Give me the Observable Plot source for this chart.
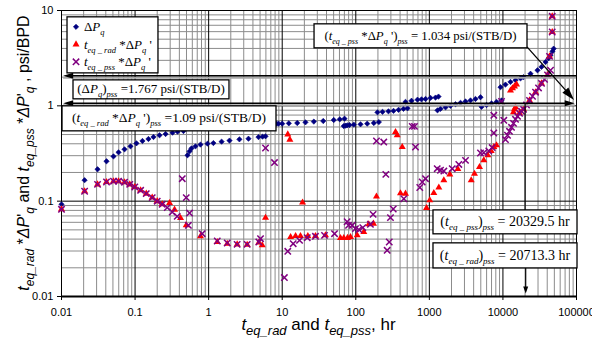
<!DOCTYPE html>
<html><head><meta charset="utf-8">
<script src="https://cdn.jsdelivr.net/npm/d3@7"></script>
<script src="https://cdn.jsdelivr.net/npm/@observablehq/plot@0.6"></script>
<style>
html,body{margin:0;padding:0;background:#fff;}
#chart{width:592px;height:341px;overflow:hidden;}
svg text{white-space:pre;}
</style></head><body><div id="chart"></div>
<script>
// ---------- tick labels ----------
const xTickValues = [0.01, 0.1, 1, 10, 100, 1000, 10000, 100000];
const xTickLabels = ["0.01", "0.1", "1", "10", "100", "1000", "10000", "100000"];
const yTickValues = [0.01, 0.1, 1, 10];
const yTickLabels = ["0.01", "0.1", "1", "10"];

// ---------- series: ΔPq ----------
const dpX = [0.0100,0.0206,0.0309,0.0409,0.0509,0.0596,0.0719,0.0867,0.1045,0.126,0.152,0.178,0.215,0.260,0.323,0.378,0.455,
 0.516,0.550,0.585,0.662,0.775,0.965,1.16,1.50,1.92,2.62,3.48,4.76,5.40,5.93,
 8.36,8.91,10.0,12.3,16.0,20.7,26.9,36.1,50.2,60.6,70.3,
 68.7,72.5,76.4,82.2,94,116,143,176,206,
 197,231,278,326,381,445,505,
 474,572,690,782,887,1038,1212,1332,
 1290,1418,1660,1941,2267,2651,3100,3625,4239,4955,
 5118,5984,6998,8178,9570,
 9275,10830,12670,14820,17330,19040,23710,29510,33440,37920,41660,44340,47200,48900];
const dpY = [0.0927,0.166,0.216,0.262,0.295,0.325,0.350,0.376,0.404,0.428,0.449,0.471,0.491,0.506,0.523,0.536,0.544,
 0.303,0.333,0.358,0.376,0.392,0.401,0.407,0.421,0.432,0.445,0.452,0.470,0.475,0.479,
 0.650,0.650,0.650,0.655,0.660,0.671,0.683,0.693,0.710,0.722,0.734,
 0.614,0.620,0.624,0.629,0.635,0.640,0.650,0.660,0.676,
 0.855,0.865,0.876,0.886,0.908,0.930,0.942,
 1.10,1.13,1.16,1.17,1.18,1.21,1.22,1.25,
 0.897,0.930,0.964,1.00,1.04,1.075,1.11,1.14,1.18,1.23,
 0.976,1.02,1.06,1.10,1.14,
 1.57,1.67,1.78,1.86,1.94,2.00,2.17,2.36,2.56,2.88,3.15,3.39,3.73,3.98];

// ---------- series: t_eq_rad * ΔPq' ----------
const radX = [0.0100,0.0206,0.0309,0.0409,0.0509,0.0596,0.0719,0.0847,0.0991,0.119,0.142,0.171,0.200,0.234,
 0.294,0.344,0.415,0.496,0.775,1.31,1.79,2.44,3.34,4.81,5.35,5.93,
 11.9,12.7,13.0,15.2,17.7,18.9,22.3,28.3,38.7,62.0,68.7,77.2,84.7,104.5,128.5,150,174,191,
 347,366,405,428,474,915,1014,1150,1345,1573,1897,2438,3706,4106,4803,5496,6235,6930,7516,8178,
 13920,14360,14820,12670,13490,14360,15300,16800,19040,22980,27730,33440,40360,42960,46770,46770];
const radY = [0.0821,0.127,0.150,0.159,0.162,0.162,0.158,0.150,0.141,0.130,0.120,0.109,0.100,0.0927,
 0.0956,0.0815,0.0665,0.0558,0.0428,0.0373,0.0358,0.0352,0.0349,0.0368,0.0344,0.067,
 0.502,0.442,0.0421,0.0431,0.0431,0.097,0.0431,0.0431,0.0438,0.0410,0.0410,0.0412,0.0421,0.0438,0.0475,0.0572,0.0581,0.112,
 0.531,0.491,0.121,0.370,0.120,0.0847,0.102,0.122,0.139,0.166,0.191,0.217,0.166,0.194,0.228,0.268,0.303,0.336,0.370,0.385,
 0.855,0.919,0.966,1.45,1.53,1.60,1.68,0.834,0.919,1.14,1.39,1.72,2.11,3.30,5.95,8.69];

// ---------- series: t_eq_pss * ΔPq' ----------
const pssX = [0.0100,0.0206,0.0309,0.0409,0.0509,0.0596,0.0719,0.0847,0.0991,0.119,0.142,0.171,0.200,0.234,0.274,0.320,0.374,
 0.438,0.496,0.550,0.530,0.817,1.31,1.79,2.44,3.34,4.81,5.07,5.93,7.85,
 10.7,11.9,14.1,17.2,21.9,28.3,37.6,51.4,76.4,79.8,89.4,99,110,124.5,158,172,
 191,240,256,267,285,296,323,450,585,628,648,741,800,887,1279,1418,1573,2046,2514,3100,4955,5496,6427,7145,7516,7516,9570,10280,10830,
 11530,12280,13080,13920,14820,15780,16800,17890,19040,20930,22980,25230,27730,30460,33440,36740,40360,44340,42960,46770,46770];
const pssY = [0.0821,0.127,0.150,0.159,0.162,0.162,0.158,0.150,0.141,0.130,0.120,0.109,0.100,0.0927,0.0855,0.0769,0.0693,
 0.172,0.109,0.075,0.0558,0.0456,0.0382,0.0364,0.0352,0.0352,0.0373,0.0404,0.361,0.254,
 0.0158,0.0298,0.0358,0.0388,0.0414,0.0428,0.0438,0.0456,0.0608,0.0558,0.0558,0.0515,0.0503,0.0528,0.0572,0.0727,
 0.428,0.417,0.191,0.0305,0.0373,0.0672,0.0827,0.106,0.609,0.609,0.370,0.139,0.159,0.172,0.219,0.211,0.207,0.219,0.243,0.268,0.320,0.322,0.336,0.365,0.519,0.795,1.11,0.705,0.442,
 0.491,0.540,0.595,0.655,0.722,0.776,0.834,0.876,0.919,1.02,1.14,1.26,1.39,1.54,1.72,1.90,2.11,2.36,3.30,5.95,8.69];

// ---------- annotation values (data coordinates) ----------
const pssLineY = 2.04;      // upper horizontal annotation line
const derivLineY = 1.05;    // lower horizontal annotation line
const tPssValue = 20329.5;
const tRadValue = 20713.3;

const zip = (xs, ys) => xs.map((x, i) => ({x, y: ys[i]}));
const dp = zip(dpX, dpY), rad = zip(radX, radY), pss = zip(pssX, pssY);

const minorX = xTickValues.slice(0, -1).flatMap(d => [2,3,4,5,6,7,8,9].map(k => d * k));
const minorY = yTickValues.slice(0, -1).flatMap(d => [2,3,4,5,6,7,8,9].map(k => d * k));

const sans = "'Liberation Sans', Arial, sans-serif";
const serif = "'Liberation Serif', 'Times New Roman', serif";
const NAVY = "#000080", RED = "#ff0000", PURPLE = "#800080";

const plot = Plot.plot({
  width: 592, height: 341,
  marginLeft: 61, marginRight: 16, marginTop: 10, marginBottom: 45,
  style: {fontFamily: sans, fontSize: "11px", color: "#000", background: "#fff", overflow: "visible"},
  x: {type: "log", domain: [0.01, 100000]},
  y: {type: "log", domain: [0.01, 10]},
  marks: [
    Plot.ruleX(minorX, {stroke: "#8c8c8c", strokeWidth: 1}),
    Plot.ruleY(minorY, {stroke: "#8c8c8c", strokeWidth: 1}),
    Plot.ruleX(xTickValues, {stroke: "#000", strokeWidth: 1}),
    Plot.ruleY(yTickValues, {stroke: "#000", strokeWidth: 1}),
    Plot.frame({stroke: "#000"}),
    Plot.ruleY([0.01], {stroke: "#000", strokeWidth: 2}),
    Plot.axisX({ticks: xTickValues, tickFormat: d => xTickLabels[xTickValues.indexOf(d)], tickSize: 4, tickPadding: 8, label: null}),
    Plot.axisY({ticks: yTickValues, tickFormat: d => yTickLabels[yTickValues.indexOf(d)], tickSize: 4, tickPadding: 4, label: null}),
    Plot.dot(dp, {x: "x", y: "y", symbol: "diamond2", fill: NAVY, stroke: NAVY, strokeWidth: 0.6, r: 2.4}),
    Plot.dot(rad, {x: "x", y: "y", symbol: "triangle", fill: RED, r: 2.6}),
    Plot.dot(pss, {x: "x", y: "y", symbol: "times", stroke: PURPLE, strokeWidth: 1.5, r: 3})
  ]
});
document.getElementById("chart").appendChild(plot);

// ---------- annotations through the plot's scales ----------
const sx = plot.scale("x"), sy = plot.scale("y");
const X = v => sx.apply(v), Y = v => sy.apply(v);
const svg = d3.select(plot);
const g = svg.append("g");

function rich(parent, x, y, parts, size, sub, family, anchor) {
  const t = parent.append("text").attr("x", x).attr("y", y)
    .attr("font-family", family).attr("font-size", size)
    .attr("text-anchor", anchor || "start").attr("fill", "#000")
    .style("white-space", "pre");
  let cur = 0;
  for (const [s, f = ""] of parts) {
    const isSub = f.includes("s");
    const off = isSub ? size * 0.3 : 0;
    t.append("tspan").attr("dy", off - cur)
      .attr("font-size", isSub ? sub : size)
      .attr("font-style", f.includes("i") ? "italic" : "normal")
      .text(s);
    cur = off;
  }
  return t;
}
function head(parent, x0, y0, x1, y1, len, w) {
  const a = Math.atan2(y1 - y0, x1 - x0);
  const bx = x1 - len * Math.cos(a), by = y1 - len * Math.sin(a);
  const px = -Math.sin(a) * w / 2, py = Math.cos(a) * w / 2;
  parent.append("polygon").attr("points", `${x1},${y1} ${bx + px},${by + py} ${bx - px},${by - py}`).attr("fill", "#000");
}
function line(parent, x0, y0, x1, y1, sw, col) {
  parent.append("line").attr("x1", x0).attr("y1", y0).attr("x2", x1).attr("y2", y1)
    .attr("stroke", col || "#000").attr("stroke-width", sw || 1.3);
}

// horizontal annotation lines
const hl = [
  {y: pssLineY, x1: 0.0107, x2: 100000, h0: true, h1: false},
  {y: derivLineY, x1: 0.0107, x2: 96000, h0: true, h1: true}
];
for (const l of hl) {
  const yy = Y(l.y), a = X(l.x1), b = X(l.x2);
  line(g, a, yy + 2, b, yy + 2, 2, "#a8a8a8");
  line(g, a + 4, yy, b - (l.h1 ? 4 : 0), yy, 1.4);
  if (l.h0) head(g, a + 10, yy, a, yy, 10, 6);
  if (l.h1) head(g, b - 10, yy, b, yy, 10, 6);
}
// vertical line under the t_eq_pss box region
line(g, X(tPssValue), Y(derivLineY), X(tPssValue), Y(0.080), 1.2);
// diagonal arrow from the 1.034 box
{
  const x0 = X(21580), y0 = Y(4.11), x1 = X(94000), y1 = Y(1.14);
  line(g, x0, y0, x1 - 6, y1 - 7, 1.3);
  head(g, x0, y0, x1, y1, 13, 8);
}
// vertical arrow down to the x axis
{
  const xx = X(tRadValue);
  line(g, xx, Y(0.0197), xx, Y(0.0112), 1.2);
  head(g, xx, Y(0.0197), xx, Y(0.0106), 7, 5);
}

// text boxes
const boxes = [
  {x1: 0.01456, x2: 1.92, y1: 1.85, y2: 1.17, fs: 13, ss: 8.5,
   parts: [["("], ["Δ"], ["P", "i"], ["q", "si"], [")"], ["pss", "si"], [" =1.767 psi/(STB/D)"]]},
  {x1: 0.01032, x2: 8.36, y1: 0.988, y2: 0.540, fs: 13.5, ss: 8.5,
   parts: [["("], ["t", "i"], ["eq _ rad", "si"], [" *Δ"], ["P", "i"], ["q", "si"], [" ')"], ["pss", "si"], [" =1.09 psi/(STB/D)"]]},
  {x1: 27.5, x2: 21580, y1: 7.16, y2: 4.01, fs: 12.8, ss: 8,
   parts: [["("], ["t", "i"], ["eq _ pss", "si"], [" *Δ"], ["P", "i"], ["q", "si"], [" ')"], ["pss", "si"], [" = 1.034 psi/(STB/D)"]]},
  {x1: 1138, x2: 103200, y1: 0.0800, y2: 0.0449, fs: 14, ss: 9,
   parts: [["("], ["t", "i"], ["eq _ pss", "si"], [")"], ["pss", "si"], [" = 20329.5 hr"]]},
  {x1: 1138, x2: 103200, y1: 0.0361, y2: 0.0197, fs: 14, ss: 9,
   parts: [["("], ["t", "i"], ["eq _ rad", "si"], [")"], ["pss", "si"], [" = 20713.3 hr"]]}
];
for (const b of boxes) {
  const x0 = X(b.x1), x1 = X(b.x2), y0 = Y(b.y1), y1 = Y(b.y2);
  g.append("rect").attr("x", x0).attr("y", y0).attr("width", x1 - x0).attr("height", y1 - y0)
    .attr("fill", "#fff").attr("stroke", "#000").attr("stroke-width", 1.3);
  rich(g, (x0 + x1) / 2, (y0 + y1) / 2 + b.fs * 0.3, b.parts, b.fs, b.ss, serif, "middle");
}

// legend
{
  const x0 = X(0.01207), x1 = X(0.208), y0 = Y(8.48), y1 = Y(2.19);
  g.append("rect").attr("x", x0).attr("y", y0).attr("width", x1 - x0).attr("height", y1 - y0)
    .attr("fill", "#fff").attr("stroke", "#000").attr("stroke-width", 1.3);
  const items = [
    {y: 6.66, sym: d3.symbolDiamond2, size: Math.PI * 2.4 * 2.4, fill: NAVY, stroke: NAVY,
     parts: [["Δ"], ["P", "i"], ["q", "si"]]},
    {y: 4.36, sym: d3.symbolTriangle, size: Math.PI * 2.6 * 2.6, fill: RED, stroke: "none",
     parts: [["t", "i"], ["eq _ rad", "si"], [" *Δ"], ["P", "i"], ["q", "si"], [" '"]]},
    {y: 2.86, sym: d3.symbolTimes, size: Math.PI * 3 * 3, fill: "none", stroke: PURPLE,
     parts: [["t", "i"], ["eq _ pss", "si"], [" *Δ"], ["P", "i"], ["q", "si"], [" '"]]}
  ];
  for (const it of items) {
    const yy = Y(it.y);
    g.append("path").attr("d", d3.symbol(it.sym, it.size)())
      .attr("transform", `translate(${X(0.0160)},${yy})`)
      .attr("fill", it.fill).attr("stroke", it.stroke).attr("stroke-width", it.fill === "none" ? 1.5 : 0.6);
    rich(g, X(0.0205), yy + 4.5, it.parts, 13, 8.5, serif, "start");
  }
}

// axis titles
const frameMidX = (X(0.01) + X(100000)) / 2;
const frameMidY = (Y(0.01) + Y(10)) / 2;
rich(g, frameMidX, 330,
  [["t", "i"], ["eq_rad", "si"], [" and "], ["t", "i"], ["eq_pss", "si"], [", hr"]],
  17, 13, sans, "middle");
{
  const gy = g.append("g").attr("transform", `translate(29,${frameMidY}) rotate(-90)`);
  rich(gy, 0, 0,
    [["t", "i"], ["eq_rad", "si"], [" *"], ["ΔP", "i"], ["'"], ["q", "si"], [" and "],
     ["t", "i"], ["eq_pss", "si"], [" *"], ["ΔP", "i"], ["'"], ["q", "si"], [" , psi/BPD"]],
    16, 12, sans, "middle");
}
</script>
</body></html>
